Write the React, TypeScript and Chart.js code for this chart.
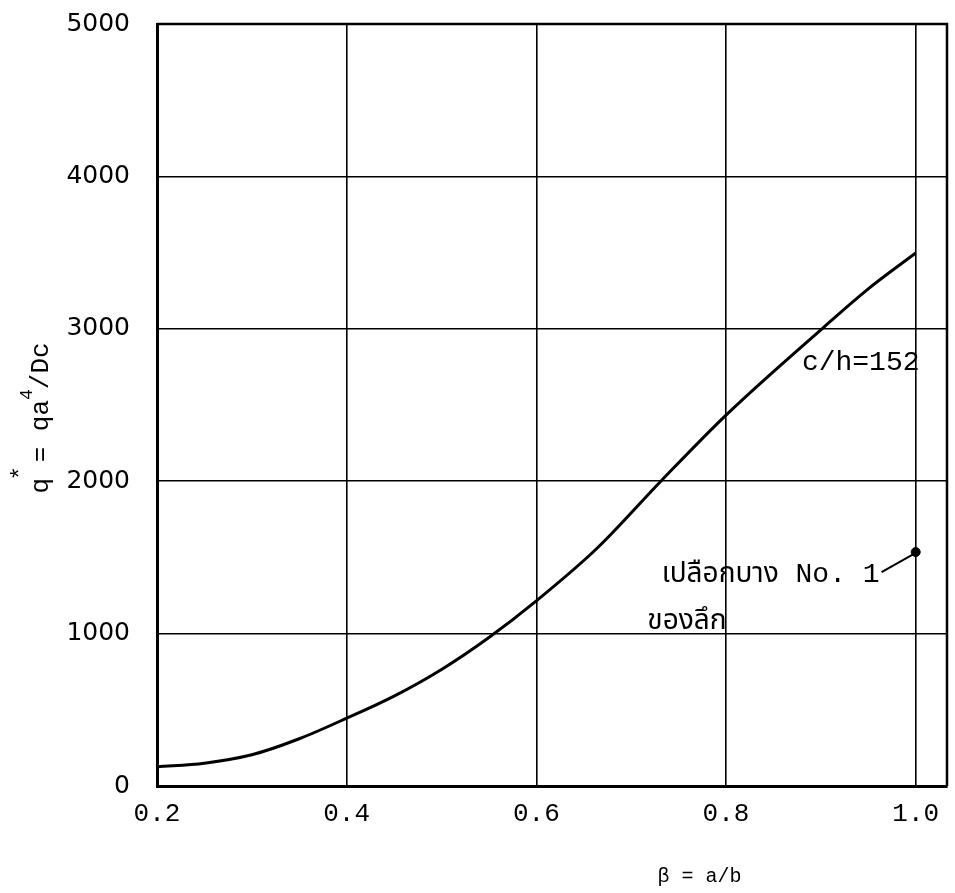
import React, { useEffect, useRef } from "react";
import { Chart, registerables } from "chart.js";

Chart.register(...registerables);

// Curve c/h = 152 : beta = a/b  vs  q* = q a^4 / D c
const betaCurve = [0.2, 0.25, 0.3, 0.35, 0.4, 0.45, 0.5, 0.55, 0.6, 0.664, 0.732, 0.8, 0.903, 0.95, 1.0];
const qCurve = [125, 150, 205, 310, 445, 590, 765, 975, 1215, 1560, 2005, 2434, 3010, 3262, 3497];

// Experimental shell point "เปลือกบาง No. 1"
const betaPoint = [1.0];
const qPoint = [1535];

// Leader line from the label to the point
const betaLeader = [0.964, 1.0];
const qLeader = [1404, 1529];

const xTicks = [0.2, 0.4, 0.6, 0.8, 1.0];
const yTicks = [0, 1000, 2000, 3000, 4000, 5000];

const curveLabel = "c/h=152";
const shellLabel1 = "เปลือกบาง No. 1";
const shellLabel2 = "ของลึก";

const MONO = "'Liberation Mono', 'DejaVu Sans Mono', monospace";
const THAI = "'Liberation Mono', 'Noto Sans Thai', 'Loma', 'Tlwg Typo', 'Garuda', 'Noto Sans', sans-serif";

const decor = {
  id: "decor",
  afterDatasetsDraw(chart: any) {
    const { ctx, chartArea, scales } = chart;
    const xs = scales.x;
    const ys = scales.y;
    ctx.save();
    // frame (top and right)
    ctx.strokeStyle = "#000";
    ctx.lineWidth = 2.5;
    ctx.beginPath();
    ctx.moveTo(chartArea.left, chartArea.top);
    ctx.lineTo(chartArea.right, chartArea.top);
    ctx.lineTo(chartArea.right, chartArea.bottom);
    ctx.stroke();

    ctx.fillStyle = "#000";
    // curve label
    ctx.font = `28px ${MONO}`;
    ctx.textAlign = "left";
    ctx.textBaseline = "middle";
    ctx.fillText(curveLabel, xs.getPixelForValue(0.88), ys.getPixelForValue(2776));

    // shell labels
    ctx.font = `28px ${THAI}`;
    ctx.textAlign = "right";
    ctx.textBaseline = "alphabetic";
    ctx.fillText(shellLabel1, xs.getPixelForValue(betaLeader[0]) - 2, ys.getPixelForValue(1340));
    ctx.textAlign = "left";
    ctx.fillText(shellLabel2, xs.getPixelForValue(0.717), ys.getPixelForValue(1030));

    // x axis title
    ctx.font = `20px ${MONO}`;
    ctx.textAlign = "center";
    ctx.textBaseline = "middle";
    ctx.fillText("β = a/b", xs.getPixelForValue(0.772), chartArea.bottom + 91);

    // y axis title (rotated)
    const big = `26px ${MONO}`;
    const small = `18px ${MONO}`;
    ctx.font = big;
    const p1 = "q = qa";
    const p3 = "/Dc";
    const w1 = ctx.measureText(p1).width;
    const w3 = ctx.measureText(p3).width;
    ctx.font = small;
    const w2 = ctx.measureText("4").width;
    const total = w1 + w2 + w3;
    const cy = ys.getPixelForValue(2415);
    ctx.translate(chartArea.left - 109, cy + total / 2);
    ctx.rotate(-Math.PI / 2);
    ctx.textAlign = "left";
    ctx.textBaseline = "alphabetic";
    ctx.font = big;
    ctx.fillText(p1, 0, 0);
    ctx.font = small;
    ctx.fillText("4", w1, -16);
    ctx.font = big;
    ctx.fillText(p3, w1 + w2, 0);
    ctx.font = `24px ${MONO}`;
    ctx.fillText("*", 13, -20);
    ctx.restore();
  },
};

export default function App() {
  const ref = useRef<HTMLCanvasElement | null>(null);
  useEffect(() => {
    if (!ref.current) return;
    const chart = new Chart(ref.current, {
      type: "scatter",
      data: {
        datasets: [
          {
            label: curveLabel,
            data: betaCurve.map((b, i) => ({ x: b, y: qCurve[i] })),
            showLine: true,
            borderColor: "#000",
            borderWidth: 3,
            pointRadius: 0,
            cubicInterpolationMode: "monotone",
          },
          {
            label: "leader",
            data: betaLeader.map((b, i) => ({ x: b, y: qLeader[i] })),
            showLine: true,
            borderColor: "#000",
            borderWidth: 2,
            pointRadius: 0,
          },
          {
            label: shellLabel1,
            data: betaPoint.map((b, i) => ({ x: b, y: qPoint[i] })),
            pointRadius: 4.5,
            backgroundColor: "#000",
            borderColor: "#000",
          },
        ],
      },
      options: {
        animation: false,
        responsive: false,
        devicePixelRatio: 1,
        layout: { padding: { left: 0, right: 8, top: 24, bottom: 0 } },
        plugins: { legend: { display: false }, tooltip: { enabled: false } },
        scales: {
          x: {
            type: "linear",
            min: 0.2,
            max: 1.033,
            afterBuildTicks: (s: any) => {
              s.ticks = xTicks.map((v) => ({ value: v }));
            },
            afterFit: (s: any) => {
              s.height = 107;
            },
            ticks: {
              includeBounds: false,
              callback: (v: any) => Number(v).toFixed(1),
              font: { family: MONO, size: 26 },
              color: "#000",
              padding: 13,
              maxRotation: 0,
            },
            grid: { color: "#000", lineWidth: 1.6, drawTicks: false },
            border: { color: "#000", width: 3 },
          },
          y: {
            type: "linear",
            min: 0,
            max: 5000,
            afterBuildTicks: (s: any) => {
              s.ticks = yTicks.map((v) => ({ value: v }));
            },
            afterFit: (s: any) => {
              s.width = 157;
              s.paddingTop = 0;
              s.paddingBottom = 0;
            },
            ticks: {
              callback: (v: any) => String(v),
              font: { family: "'DejaVu Sans', sans-serif", size: 25 },
              color: "#000",
              padding: 27,
            },
            grid: { color: "#000", lineWidth: 1.6, drawTicks: false },
            border: { color: "#000", width: 3 },
          },
        },
      },
      plugins: [decor],
    } as any);
    return () => chart.destroy();
  }, []);
  return (
    <div style={{ position: "absolute", left: 0, top: 0, width: 955, height: 893, background: "#fff" }}>
      <canvas ref={ref} width={955} height={893} style={{ width: 955, height: 893, display: "block" }} />
    </div>
  );
}
